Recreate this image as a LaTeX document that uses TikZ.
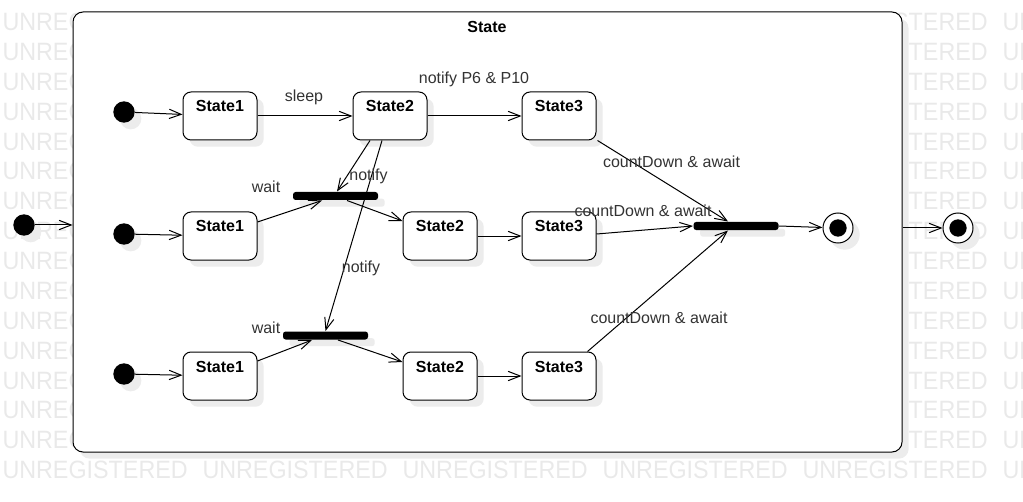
\documentclass[tikz,border=0pt]{standalone}
\usepackage{fontspec}
\setmainfont{Liberation Sans}
\newfontfamily\markfont[FakeStretch=0.93]{Liberation Sans}
\usetikzlibrary{arrows.meta,shadows,calc}
\definecolor{markgray}{RGB}{233,233,233}
\definecolor{shadegray}{RGB}{236,236,236}
\definecolor{textgray}{RGB}{51,51,51}

\begin{document}
\begin{tikzpicture}[x=0.75pt,y=-0.75pt,line width=0.75pt,
	font=\fontsize{12pt}{14pt}\selectfont,
	>={Straight Barb[length=9pt,width=7pt]},
	castshadow/.style={drop shadow={shadow xshift=5pt,shadow yshift=-5pt,fill=shadegray,opacity=1}},
	watermark/.style={text=markgray,inner sep=0pt,anchor=west,font=\markfont\fontsize{18.8pt}{20pt}\selectfont},
	state/.style={draw,fill=white,rounded corners=6pt,castshadow,minimum width=55.5pt,text height=15pt,text depth=21pt,inner ysep=0pt,font=\fontsize{12pt}{14pt}\selectfont\bfseries},
	initdot/.style={circle,fill=black,minimum size=16pt,inner sep=0pt,castshadow},
	finaldot/.style={circle,draw,fill=white,minimum size=22.5pt,inner sep=0pt,castshadow,path picture={\fill[black] (path picture bounding box.center) circle (6.5pt);}},
	syncbar/.style={fill=black,rounded corners=2pt,minimum width=63.75pt,minimum height=6pt,inner sep=0pt,castshadow},
	lbl/.style={text=textgray,inner sep=1pt}]
	\useasboundingbox (0,0) rectangle (1023,502);
	\foreach \r in {0,...,15}
		\foreach \c in {0,...,5}
			\node[watermark] (w-\r-\c) at (2+200*\c,22+29.87*\r) {UNREGISTERED};

	\node[draw,fill=white,rounded corners=7.5pt,minimum width=621.75pt,minimum height=330pt,castshadow] (frame) at (487.5,232) {};
	\node[font=\fontsize{12pt}{14pt}\selectfont\bfseries] (title) at (487,27) {State};

	\node[initdot] (i0) at (24,225) {};
	\node[finaldot] (f0) at (958,228) {};

	\node[initdot] (i1) at (124,112) {};
	\node[state] (s11) at (220,116) {State1};
	\node[state] (s12) at (390,116) {State2};
	\node[state] (s13) at (559,116) {State3};

	\node[initdot] (i2) at (124,234) {};
	\node[state] (s21) at (220,236) {State1};
	\node[state] (s22) at (440,236) {State2};
	\node[state] (s23) at (559,236) {State3};

	\node[initdot] (i3) at (124,374) {};
	\node[state] (s31) at (220,376) {State1};
	\node[state] (s32) at (440,376) {State2};
	\node[state] (s33) at (559,376) {State3};

	\node[syncbar] (b1) at (335.5,196) {};
	\node[syncbar] (b2) at (325.5,335.5) {};
	\node[syncbar] (join) at (736,226) {};
	\node[finaldot] (f1) at (838,228) {};

	\draw[->] (i0) -- (i0 -| frame.west);
	\draw[->] (frame.east |- f0) -- (f0);

	\draw[->] (i1) -- (s11);
	\draw[->] (s11) -- (s12);
	\draw[->] (s12) -- (s13);
	\draw[->] ($(s12.south)+(-20,0)$) -- ($(b1.north)+(1.5,0)$);
	\draw[->] ($(s12.south)+(-8,0)$) -- (b2.north);
	\draw[->] ($(s13.south east)+(1,0)$) -- ($(join.north)+(-8,0)$);

	\draw[->] (i2) -- (s21);
	\draw[->] ($(s21.east)+(0,-14)$) -- ($(b1.south)+(-13.5,0)$);
	\draw[->] ($(b1.south)+(11.5,0)$) -- ($(s22.west)+(0,-15)$);
	\draw[->] (s22) -- (s23);
	\draw[->] ($(s23.east)+(0,-2)$) -- (join.west);
	\draw[->] (join.east) -- (f1);

	\draw[->] (i3) -- (s31);
	\draw[->] ($(s31.east)+(0,-15)$) -- ($(b2.south)+(-13.5,0)$);
	\draw[->] ($(b2.south)+(12.5,0)$) -- ($(s32.west)+(0,-14)$);
	\draw[->] (s32) -- (s33);
	\draw[->] ($(s33.north east)+(-9,0)$) -- ($(join.south)+(-8,0)$);

	\node[lbl] (lsleep) at (304,97) {sleep};
	\node[lbl] (lnotify) at (474,79) {notify P6 \& P10};
	\node[lbl] (lcount1) at (671.5,162) {countDown \& await};
	\node[lbl] (lcount2) at (643,211) {countDown \& await};
	\node[lbl] (lcount3) at (659,318) {countDown \& await};
	\node[lbl] (lwait1) at (266,187) {wait};
	\node[lbl] (lnote1) at (368.5,176) {notify};
	\node[lbl] (lnote2) at (361,268) {notify};
	\node[lbl] (lwait2) at (266,328) {wait};
\end{tikzpicture}
\end{document}
